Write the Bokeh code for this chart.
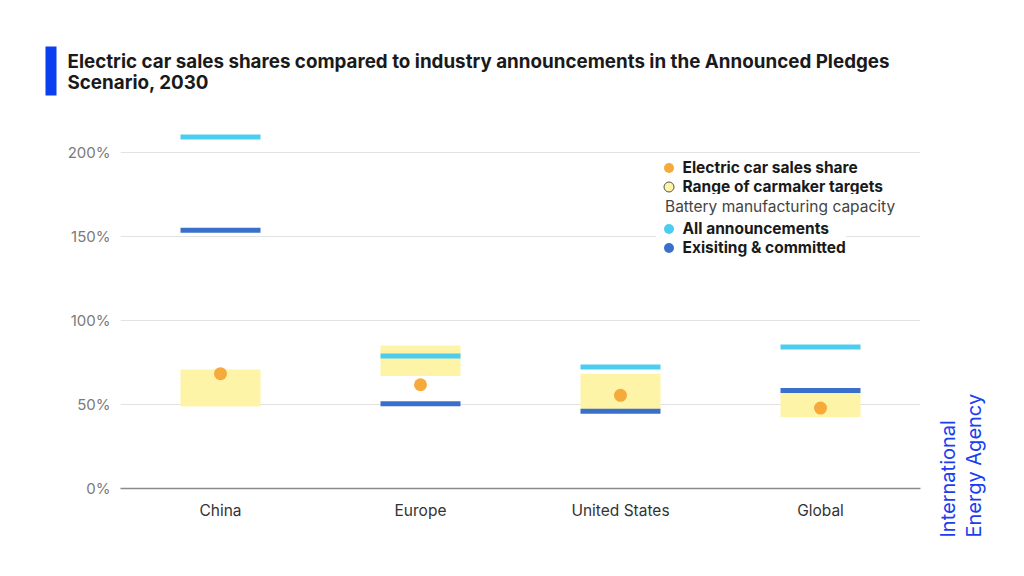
from bokeh.plotting import figure
from bokeh.layouts import column, row
from bokeh.models import Label, Legend, LegendItem, FixedTicker, ColumnDataSource, Range1d
from bokeh.embed import file_html
from bokeh.resources import INLINE
from math import pi

# ---- data ----
regions = ["China", "Europe", "United States", "Global"]
sales_share = [68.3, 61.7, 55.4, 47.8]
target_low = [48.8, 66.9, 47.0, 42.4]
target_high = [70.7, 85.1, 68.3, 57.0]
all_announcements = [209.0, 78.8, 72.2, 84.1]
existing_committed = [153.6, 50.4, 46.0, 58.3]
y_ticks = [0, 50, 100, 150, 200]
y_tick_labels = ["0%", "50%", "100%", "150%", "200%"]
title_lines = ["Electric car sales shares compared to industry announcements in the Announced Pledges",
               "Scenario, 2030"]
brand_lines = ["International", "Energy Agency"]

ORANGE = "#f6aa3c"
YELLOW = "#fdf4a8"
LIGHTBLUE = "#4ccdf0"
DARKBLUE = "#3b6fcc"
IEA_BLUE = "#1a3ff0"
FONT = "Inter"

W, H = 1024, 576
HEADER_H = 118
MAIN_W = 930


def blank(width, height, xr, yr):
    f = figure(width=width, height=height, x_range=Range1d(*xr), y_range=Range1d(*yr),
               x_axis_type=None, y_axis_type=None, output_backend="svg",
               toolbar_location=None, min_border=0, title=None)
    f.outline_line_color = None
    f.xgrid.visible = False
    f.ygrid.visible = False
    return f


# ---- header (pixel coordinates) ----
header = blank(W, HEADER_H, (0, W), (HEADER_H, 0))
header.quad(left=[45], right=[56], top=[46], bottom=[95], fill_color="#0b3ff0", line_color=None)
for txt, yy in zip(title_lines, [61, 82]):
    header.add_layout(Label(x=67, y=yy, text=txt, text_font=FONT, text_font_size="18.8px",
                            text_font_style="bold", text_color="#1a1a1a",
                            text_baseline="middle", text_align="left"))

# ---- main chart ----
p = figure(width=MAIN_W, height=H - HEADER_H, x_range=regions, y_range=(0, 220),
           output_backend="svg", toolbar_location=None, title=None,
           min_border_left=120, min_border_right=10,
           min_border_top=0, min_border_bottom=88)
p.outline_line_color = None

src = ColumnDataSource(dict(region=regions, share=sales_share, lo=target_low,
                            hi=target_high, allann=all_announcements,
                            exist=existing_committed))

p.vbar(x="region", bottom="lo", top="hi", width=0.4, source=src,
       fill_color=YELLOW, line_color=None)
p.rect(x="region", y="allann", width=0.4, height=5, height_units="screen",
       source=src, fill_color=LIGHTBLUE, line_color=None)
p.rect(x="region", y="exist", width=0.4, height=5, height_units="screen",
       source=src, fill_color=DARKBLUE, line_color=None)
p.scatter(x="region", y="share", size=13, source=src,
          fill_color=ORANGE, line_color=None)

p.yaxis.ticker = FixedTicker(ticks=y_ticks)
p.yaxis.major_label_overrides = {t: l for t, l in zip(y_ticks, y_tick_labels)}
p.yaxis.axis_line_color = None
p.yaxis.major_tick_line_color = None
p.yaxis.minor_tick_line_color = None
p.yaxis.major_label_text_font = FONT
p.yaxis.major_label_text_font_size = "15px"
p.yaxis.major_label_text_color = "#7a7a7a"
p.yaxis.major_label_standoff = 4

p.xaxis.axis_line_color = "#8a8a8a"
p.xaxis.axis_line_width = 1.5
p.xaxis.major_tick_line_color = None
p.xaxis.minor_tick_line_color = None
p.xaxis.major_label_text_font = FONT
p.xaxis.major_label_text_font_size = "15.5px"
p.xaxis.major_label_text_color = "#333333"
p.xaxis.major_label_standoff = 6

p.xgrid.grid_line_color = None
p.ygrid.grid_line_color = "#e2e2e2"
p.ygrid.grid_line_width = 1


# ---- legend: one single-row legend per entry ----
def dummy(**kw):
    return p.scatter(x=[regions[0]], y=[float("nan")], **kw)


r_share = dummy(fill_color=ORANGE, line_color=None)
r_range = dummy(fill_color=YELLOW, line_color="#555555", line_width=1)
r_none = dummy(fill_alpha=0, line_alpha=0)
r_all = dummy(fill_color=LIGHTBLUE, line_color=None)
r_exist = dummy(fill_color=DARKBLUE, line_color=None)

legend_rows = [
    ("Electric car sales share", r_share, True, 321),
    ("Range of carmaker targets", r_range, True, 302),
    ("Battery manufacturing capacity", r_none, False, 282),
    ("All announcements", r_all, True, 260),
    ("Exisiting & committed", r_exist, True, 241),
]
for label, rend, bold, yc in legend_rows:
    gw = 25 if bold else 1
    x0 = 535.5 if bold else 544
    lg = Legend(items=[LegendItem(label=label, renderers=[rend])],
                location=(x0, yc - 12.5), orientation="vertical",
                glyph_width=gw, glyph_height=25, label_height=19,
                spacing=0, padding=0, margin=0,
                label_standoff=2 if bold else 0,
                border_line_color=None, background_fill_color="white",
                background_fill_alpha=1.0,
                label_text_font=FONT, label_text_font_size="15.5px",
                label_text_color="#1a1a1a" if bold else "#444444",
                label_text_font_style="bold" if bold else "normal")
    p.add_layout(lg, "center")

# ---- branding column (pixel coordinates) ----
side = blank(W - MAIN_W, H - HEADER_H, (MAIN_W, W), (H, HEADER_H))
for txt, xx in zip(brand_lines, [947, 973]):
    side.add_layout(Label(x=xx, y=537, text=txt, angle=pi / 2, text_font=FONT,
                          text_font_size="20px", text_color=IEA_BLUE,
                          text_baseline="middle", text_align="left"))

layout = column(header, row(p, column(side, spacing=0), spacing=0), spacing=0)
open("out.html", "w").write(file_html(layout, INLINE))
